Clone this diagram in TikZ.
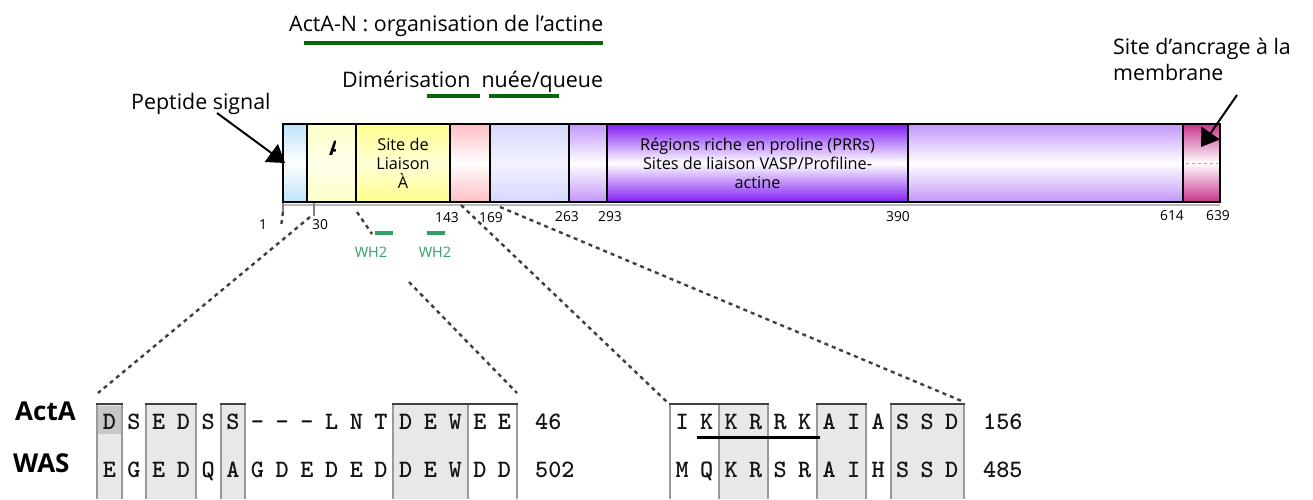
\documentclass[tikz,border=0pt]{standalone}
\usepackage{fontspec}
\setmainfont{Open Sans}
\usetikzlibrary{arrows.meta}
\definecolor{cBlue}{RGB}{190,228,250}
\definecolor{cLY}{RGB}{255,255,200}
\definecolor{cLYm}{RGB}{255,255,235}
\definecolor{cY}{RGB}{255,255,140}
\definecolor{cYm}{RGB}{255,255,215}
\definecolor{cPink}{RGB}{255,190,195}
\definecolor{cLav}{RGB}{215,215,255}
\definecolor{cLavm}{RGB}{242,242,255}
\definecolor{cLP}{RGB}{195,150,250}
\definecolor{cDP}{RGB}{130,30,245}
\definecolor{cMag}{RGB}{200,50,140}
\definecolor{dGreen}{RGB}{10,100,10}
\definecolor{wGreen}{RGB}{50,160,100}
\definecolor{shadec}{RGB}{232,232,234}
\definecolor{seqc}{RGB}{20,20,20}
\begin{document}
\begin{tikzpicture}[x=1pt,y=-1pt,
  seg/.style={draw=black, line width=2pt, inner sep=0pt, outer sep=0pt, minimum height=78pt, anchor=north west},
  lbl/.style={font=\fontsize{21.4}{26}\selectfont, inner sep=0pt},
  boxtxt/.style={font=\fontsize{16.3}{19}\selectfont, align=center},
  num/.style={font=\fontsize{13.8}{16}\selectfont, inner sep=0pt},
  wh/.style={font=\fontsize{14.5}{17}\selectfont, text=wGreen, inner sep=0pt},
  gbar/.style={draw=dGreen, line width=3.5pt},
  whbar/.style={draw=wGreen, line width=4pt},
  conn/.style={draw=black!75, line width=2.4pt, dash pattern=on 4pt off 4pt},
  bigarrow/.style={draw=black, line width=2pt, -{Triangle[length=17pt,width=22pt]}},
  aa/.style={font=\fontfamily{lmtt}\fontseries{b}\fontsize{25}{28}\selectfont, text=seqc, inner sep=0pt, anchor=base},
  seqnum/.style={font=\fontfamily{lmtt}\fontseries{b}\fontsize{25}{28}\selectfont, text=seqc, inner sep=0pt, anchor=base west},
  frametop/.style={draw=black!75, line width=2pt},
  framev/.style={draw=black!40, line width=2pt},
  shd/.style={fill=shadec, draw=none},
  biglbl/.style={font=\bfseries\fontsize{26}{30}\selectfont, inner sep=0pt, anchor=base west},
]
\useasboundingbox (0,0) rectangle (1313,499);

% ---------- top labels ----------
\node[lbl, anchor=base west] (actan) at (289,31) {ActA-N : organisation de l’actine};
\draw[gbar] (304,43) -- (603,43);
\node[lbl, anchor=base west] (dimer) at (342,87) {Dimérisation\hspace{5.6pt} nuée/queue};
\draw[gbar] (427,96) -- (480,96);
\draw[gbar] (489,96) -- (559,96);
\node[lbl, anchor=base west] (pepsig) at (131,109) {Peptide signal};
\node[lbl, anchor=base west] (memb1) at (1113,54) {Site d’ancrage à la};
\node[lbl, anchor=base west] (memb2) at (1113,80) {membrane};

% ---------- bar ----------
\draw[gray!55, line width=2.5pt] (283,205) -- (1220,205);
\node[seg, minimum width=24pt, top color=cBlue, bottom color=cBlue, middle color=white] (b1) at (283,124) {};
\node[seg, minimum width=49pt, top color=cLY, bottom color=cLY, middle color=cLYm] (b2) at (307,124) {};
\node[seg, minimum width=94pt, top color=cY, bottom color=cY, middle color=cYm, boxtxt] (b3) at (356,124) {Site de\\Liaison\\À};
\node[seg, minimum width=40pt, top color=cPink, bottom color=cPink, middle color=white] (b4) at (450,124) {};
\node[seg, minimum width=79pt, top color=cLav, bottom color=cLav, middle color=cLavm] (b5) at (490,124) {};
\node[seg, minimum width=38pt, top color=cLP, bottom color=cLP, middle color=white] (b6) at (569,124) {};
\node[seg, minimum width=301pt, top color=cDP, bottom color=cDP, middle color=white, boxtxt] (b7) at (607,124) {Régions riche en proline (PRRs)\\Sites de liaison VASP/Profiline-\\actine};
\node[seg, minimum width=275pt, top color=cLP, bottom color=cLP, middle color=white] (b8) at (908,124) {};
\node[seg, minimum width=37pt, top color=cMag, bottom color=cMag, middle color=white] (b9) at (1183,124) {};
\draw[gray!70, dashed, line width=0.8pt] (1186,163) -- (1218,163);
\begin{scope}
  \clip (308,125) rectangle (335,200);
  \node[font=\bfseries\fontsize{20}{24}\selectfont, inner sep=0pt] (alabel) at (336,148) {A};
\end{scope}

% ---------- arrows ----------
\coordinate (pepfrom) at (217,113);
\coordinate (pepto) at (285,163);
\draw[bigarrow] (pepfrom) -- (pepto);
\coordinate (memfrom) at (1237,95);
\coordinate (memto) at (1201,147);
\draw[bigarrow] (memfrom) -- (memto);

% ---------- positions ----------
\draw[gray, line width=1.5pt] (283,203) -- (283,212);
\draw[gray, line width=1.5pt] (314,203) -- (314,216);
\node[num] (n1) at (263,225) {1};
\node[num] (n30) at (320,225) {30};
\node[num] (n143) at (447,218) {143};
\node[num] (n169) at (491,218) {169};
\node[num] (n263) at (567,217) {263};
\node[num] (n293) at (610,217) {293};
\node[num] (n390) at (898,217) {390};
\node[num] (n614) at (1172,216) {614};
\node[num] (n639) at (1218,216) {639};

% WH2
\draw[whbar] (375,233) -- (393,233);
\draw[whbar] (427,233) -- (445,233);
\node[wh] (wh1) at (371,252) {WH2};
\node[wh] (wh2) at (435,252) {WH2};

% ---------- alignment left ----------
\fill[shd] (97,404) rectangle (121.7,499);
\fill[black!22] (97,406) rectangle (121.7,434);
\fill[shd] (146.4,404) rectangle (195.8,499);
\fill[shd] (220.5,404) rectangle (245.2,499);
\fill[shd] (393.4,404) rectangle (467.5,499);
\foreach \xx in {97,121.7,146.4,195.8,220.5,245.2,393.4,467.5,517}
  \draw[framev] (\xx,404) -- (\xx,499);
\draw[frametop] (96,404) -- (122.7,404);
\draw[frametop] (145.4,404) -- (196.8,404);
\draw[frametop] (219.5,404) -- (246.2,404);
\draw[frametop] (392.4,404) -- (518,404);

\foreach \c [count=\i] in {D,S,E,D,S,S,-,-,-,L,N,T,D,E,W,E,E}
  \node[aa] (a\i) at ({97+(\i-0.5)*24.7},429) {\c};
\foreach \c [count=\i] in {E,G,E,D,Q,A,G,D,E,D,E,D,D,E,W,D,D}
  \node[aa] (w\i) at ({97+(\i-0.5)*24.7},477) {\c};
\node[seqnum] (na) at (535,429) {46};
\node[seqnum] (nw) at (535,477) {502};

% ---------- alignment right ----------
\fill[shd] (719,404) rectangle (768,499);
\fill[shd] (817,404) rectangle (866,499);
\fill[shd] (890.5,404) rectangle (964,499);
\foreach \xx in {670,719,768,817,866,890.5,964}
  \draw[framev] (\xx,404) -- (\xx,499);
\draw[frametop] (669,404) -- (769,404);
\draw[frametop] (816,404) -- (867,404);
\draw[frametop] (889.5,404) -- (965,404);
\foreach \c [count=\i] in {I,K,K,R,R,K,A,I,A,S,S,D}
  \node[aa] (b\i) at ({670+(\i-0.5)*24.5},429) {\c};
\foreach \c [count=\i] in {M,Q,K,R,S,R,A,I,H,S,S,D}
  \node[aa] (m\i) at ({670+(\i-0.5)*24.5},477) {\c};
\draw[black, line width=3pt] (697,437) -- (820,437);
\node[seqnum] (nb) at (983,429) {156};
\node[seqnum] (nm) at (983,477) {485};

% ---------- labels ----------
\node[biglbl] (lacta) at (15,420) {ActA};
\node[biglbl] (lwas) at (13,472) {WAS};

% ---------- dashed connectors ----------
\coordinate (cA1) at (310,217);
\coordinate (cA2) at (98,393);
\draw[conn] (cA1) -- (cA2);
\coordinate (c11) at (283,212);
\coordinate (c12) at (281,227);
\draw[conn] (c11) -- (c12);
\coordinate (cB1) at (357,212);
\coordinate (cB2) at (372,234);
\draw[conn] (cB1) -- (cB2);
\coordinate (cB3) at (409,282);
\coordinate (cB4) at (517,393);
\draw[conn] (cB3) -- (cB4);
\coordinate (cC1) at (461,205);
\coordinate (cC2) at (667,402);
\draw[conn] (cC1) -- (cC2);
\coordinate (cD1) at (500,207);
\coordinate (cD2) at (964,402);
\draw[conn] (cD1) -- (cD2);
\end{tikzpicture}
\end{document}
